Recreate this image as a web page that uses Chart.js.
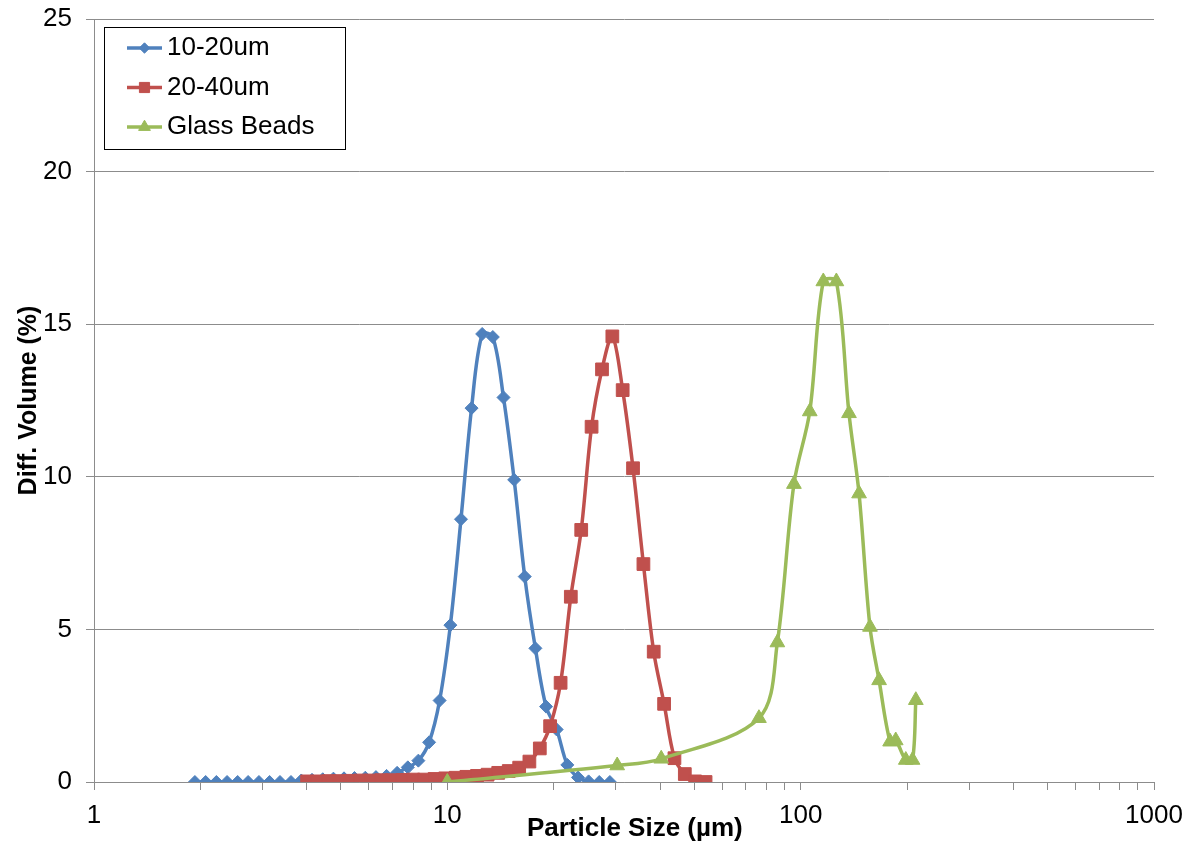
<!DOCTYPE html>
<html>
<head>
<meta charset="utf-8">
<title>Particle size distribution</title>
<script src="https://cdn.jsdelivr.net/npm/chart.js@4.4.1/dist/chart.umd.min.js"></script>
<style>
  html, body { margin: 0; padding: 0; background: #fff; }
  #wrap { width: 1191px; height: 849px; }
</style>
</head>
<body>
<div id="wrap"><canvas id="psd" width="1191" height="849"></canvas></div>
<script>
// particle sizes (um) and differential volume (%) per sample
var sizes1020 = [1.93, 2.07, 2.22, 2.38, 2.55, 2.73, 2.93, 3.14, 3.36, 3.61,
                 3.86, 4.14, 4.44, 4.76, 5.10, 5.46, 5.86, 6.28, 6.73, 7.21,
                 7.73, 8.28, 8.88, 9.51, 10.20, 10.93, 11.71, 12.55, 13.45, 14.42,
                 15.46, 16.56, 17.75, 19.03, 20.39, 21.86, 23.43, 25.11, 26.91, 28.84];
var vol1020 = [0, 0, 0, 0, 0, 0, 0, 0, 0, 0,
               0.05, 0.07, 0.09, 0.11, 0.12, 0.13, 0.14, 0.16, 0.2, 0.3,
               0.48, 0.7, 1.3, 2.67, 5.14, 8.61, 12.25, 14.68, 14.58, 12.6,
               9.9, 6.73, 4.38, 2.47, 1.72, 0.56, 0.15, 0.02, 0, 0];

var sizes2040 = [4.01, 4.30, 4.61, 4.94, 5.29, 5.67, 6.08, 6.51, 6.98, 7.48,
                 8.01, 8.59, 9.20, 9.86, 10.56, 11.32, 12.13, 13.00, 13.93, 14.92,
                 15.97, 17.07, 18.27, 19.54, 20.92, 22.36, 23.93, 25.60, 27.40, 29.31,
                 31.35, 33.54, 35.89, 38.38, 41.07, 43.93, 47.00, 50.28, 53.81];
var vol2040 = [0.02, 0.02, 0.03, 0.03, 0.04, 0.05, 0.05, 0.06, 0.06, 0.07,
               0.08, 0.08, 0.1, 0.12, 0.14, 0.17, 0.2, 0.24, 0.3, 0.36,
               0.47, 0.67, 1.1, 1.83, 3.25, 6.07, 8.26, 11.64, 13.52, 14.6,
               12.84, 10.28, 7.14, 4.27, 2.56, 0.78, 0.26, 0.02, 0];

var sizesBeads = [10.0, 30.25, 40.31, 76.19, 85.9, 95.7, 106.1, 115.9, 126.2,
                  137.0, 146.3, 157.1, 166.7, 179.1, 185.8, 198.4, 207.3, 211.8];
var volBeads = [0, 0.54, 0.76, 2.09, 4.57, 9.76, 12.14, 16.4, 16.4,
                12.08, 9.45, 5.08, 3.33, 1.32, 1.36, 0.72, 0.72, 2.68];

var seriesNames = ["10-20um", "20-40um", "Glass Beads"];
var xTickValues = [1, 2, 3, 4, 5, 6, 7, 8, 9,
                   10, 20, 30, 40, 50, 60, 70, 80, 90,
                   100, 200, 300, 400, 500, 600, 700, 800, 900, 1000];
var xTickLabels = ["1", "10", "100", "1000"];
var yTickLabels = ["0", "5", "10", "15", "20", "25"];

var FONT = "'Liberation Sans', Arial, sans-serif";

function toPoints(xs, ys) {
    var pts = [];
    for (var i = 0; i < xs.length; i++) {
        pts.push({x: xs[i], y: ys[i]});
    }
    return pts;
}

// Excel-style legend: boxed, line sample with marker in the middle
var boxedLegend = {
    id: "boxedLegend",
    afterDraw: function(chart) {
        var ctx = chart.ctx;
        var left = 104.5, top = 27.5, w = 241, h = 122;
        ctx.save();
        ctx.fillStyle = "#fff";
        ctx.fillRect(left, top, w, h);
        ctx.strokeStyle = "#000";
        ctx.lineWidth = 1;
        ctx.strokeRect(left, top, w, h);

        var rows = [48, 87.5, 127];
        chart.data.datasets.forEach(function(ds, i) {
            var y = rows[i];
            ctx.strokeStyle = ds.borderColor;
            ctx.lineWidth = 3.5;
            ctx.beginPath();
            ctx.moveTo(127, y);
            ctx.lineTo(162, y);
            ctx.stroke();
            ctx.fillStyle = ds.pointBackgroundColor;
            ctx.strokeStyle = ds.pointBorderColor;
            ctx.lineWidth = 1;
            Chart.helpers.drawPoint(ctx, {
                pointStyle: ds.pointStyle,
                radius: ds.pointRadius * 0.8,
                rotation: 0,
                borderWidth: 1
            }, 144.5, y);
            ctx.fillStyle = "#000";
            ctx.font = "26px " + FONT;
            ctx.textBaseline = "middle";
            ctx.textAlign = "left";
            ctx.fillText(ds.label, 167, y);
        });
        ctx.restore();
    }
};

var ctx = document.getElementById("psd");

var data = {
    datasets: [
        {
            label: seriesNames[0],
            data: toPoints(sizes1020, vol1020),
            borderColor: "#4F81BD",
            pointBackgroundColor: "#4F81BD",
            pointBorderColor: "#4F81BD",
            pointStyle: "rectRot",
            pointRadius: 6.5,
            order: 3
        },
        {
            label: seriesNames[1],
            data: toPoints(sizes2040, vol2040),
            borderColor: "#C0504D",
            pointBackgroundColor: "#C0504D",
            pointBorderColor: "#C0504D",
            pointStyle: "rect",
            pointRadius: 9,
            order: 2
        },
        {
            label: seriesNames[2],
            data: toPoints(sizesBeads, volBeads),
            borderColor: "#9BBB59",
            pointBackgroundColor: "#9BBB59",
            pointBorderColor: "#9BBB59",
            pointStyle: "triangle",
            pointRadius: 8.5,
            order: 1
        }
    ]
};

var options = {
    responsive: false,
    devicePixelRatio: 1,
    animation: false,
    layout: {
        padding: {left: 0, top: 19, right: 37, bottom: 0}
    },
    elements: {
        line: {borderWidth: 3.5, tension: 0.33},
        point: {borderWidth: 1, hoverRadius: 6}
    },
    plugins: {
        legend: {display: false},
        tooltip: {enabled: false}
    },
    scales: {
        x: {
            type: "logarithmic",
            min: 1,
            max: 1000,
            afterBuildTicks: function(scale) {
                scale.ticks = xTickValues.map(function(v) { return {value: v}; });
            },
            afterFit: function(scale) {
                scale.height = 67;
                scale.paddingLeft = 0;
                scale.paddingRight = 0;
            },
            border: {color: "#8C8C8C", width: 1},
            grid: {
                drawOnChartArea: false,
                drawTicks: true,
                tickLength: 8,
                color: "#8C8C8C"
            },
            ticks: {
                autoSkip: false,
                maxRotation: 0,
                padding: 10,
                color: "#000",
                font: {family: FONT, size: 26},
                callback: function(value) {
                    var s = String(value);
                    return xTickLabels.indexOf(s) >= 0 ? s : "";
                }
            },
            title: {
                display: true,
                text: "   Particle Size (µm)",
                color: "#000",
                font: {family: FONT, size: 26, weight: "bold"},
                padding: {top: 0, bottom: 5}
            }
        },
        y: {
            min: 0,
            max: 25,
            afterFit: function(scale) {
                scale.width = 94;
                scale.paddingTop = 0;
                scale.paddingBottom = 0;
            },
            border: {color: "#8C8C8C", width: 1},
            grid: {
                color: "#8C8C8C",
                tickLength: 8
            },
            ticks: {
                stepSize: 5,
                padding: 14,
                color: "#000",
                font: {family: FONT, size: 26},
                callback: function(value) {
                    return yTickLabels[Math.round(value / 5)];
                }
            },
            title: {
                display: true,
                text: "Diff. Volume (%)",
                color: "#000",
                font: {family: FONT, size: 25, weight: "bold"},
                padding: {top: 14, bottom: 0}
            }
        }
    }
};

var chart = new Chart(ctx, {
    type: "line",
    data: data,
    options: options,
    plugins: [boxedLegend]
});
</script>
</body>
</html>
